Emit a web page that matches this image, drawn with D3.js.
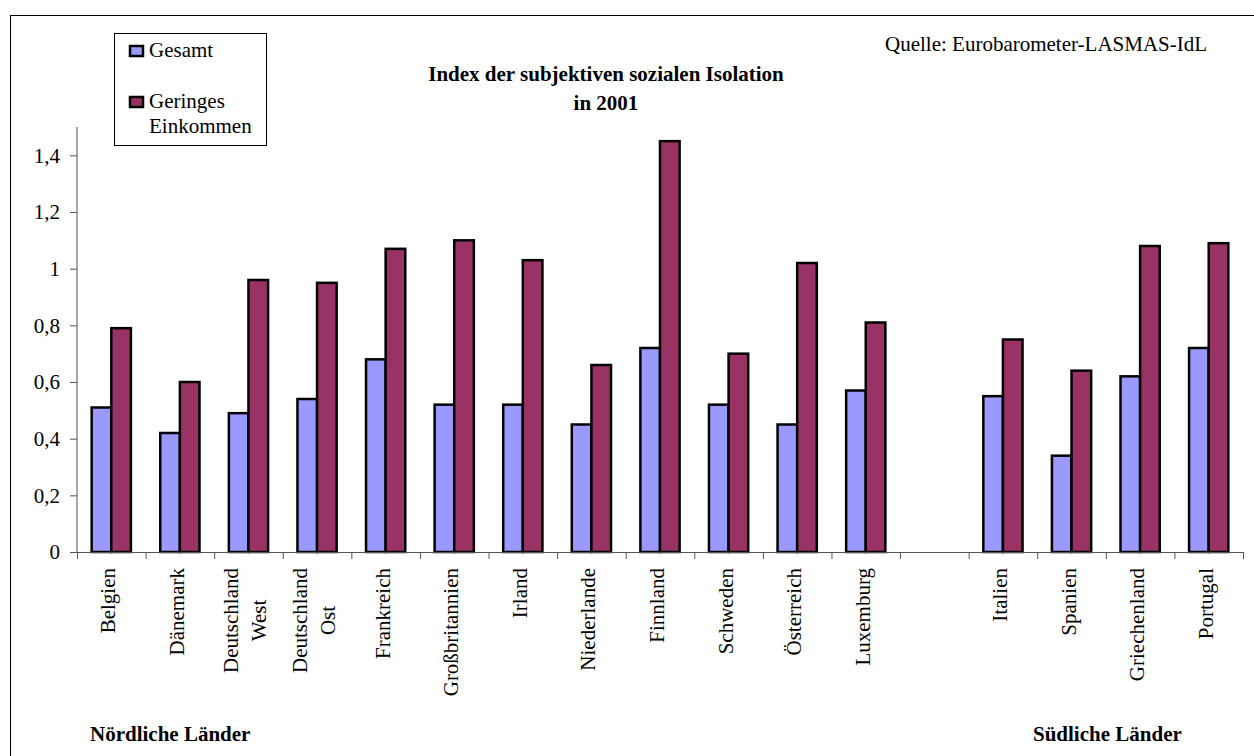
<!doctype html>
<html>
    <head>
        <meta charset="utf-8">
        <title>Index der subjektiven sozialen Isolation</title>
        <script src="https://d3js.org/d3.v7.min.js"></script>
        <style>
            body { margin: 0; background: #fff; }
            svg, svg text { font-family: "Liberation Serif", "Times New Roman", serif !important; }
            text { fill: #000; }
        </style>
    </head>

    <body>
        <script>
            // countries, "" is the empty gap between north and south
            var countries = ["Belgien", "Dänemark", "Deutschland\nWest", "Deutschland\nOst", "Frankreich",
                "Großbritannien", "Irland", "Niederlande", "Finnland", "Schweden", "Österreich",
                "Luxemburg", "", "Italien", "Spanien", "Griechenland", "Portugal"];
            var gesamt = [0.51, 0.42, 0.49, 0.54, 0.68, 0.52, 0.52, 0.45, 0.72, 0.52, 0.45, 0.57,
                null, 0.55, 0.34, 0.62, 0.72];
            var geringes = [0.79, 0.60, 0.96, 0.95, 1.07, 1.10, 1.03, 0.66, 1.45, 0.70, 1.02, 0.81,
                null, 0.75, 0.64, 1.08, 1.09];
            var seriesNames = ["Gesamt", "Geringes\nEinkommen"];
            var seriesColors = ["#9999FF", "#993366"];
            var yTicks = [0, 0.2, 0.4, 0.6, 0.8, 1, 1.2, 1.4];

            var width = 1254;
            var height = 756;

            var svg = d3.select("body")
                .append("svg")
                .attr("width", width)
                .attr("height", height);

            // outer frame (cut off at right and bottom)
            svg.append("rect")
                .attr("x", 10.5)
                .attr("y", 15.5)
                .attr("width", 1400)
                .attr("height", 900)
                .attr("fill", "none")
                .attr("stroke", "#000")
                .attr("stroke-width", 1);

            var keys = countries.map(function (c, i) { return "k" + i; });

            var x0 = d3.scaleBand()
                .domain(keys)
                .range([77, 1243]);

            var bw = x0.bandwidth();

            var x1 = d3.scaleBand()
                .domain([0, 1])
                .range([bw * 0.214, bw * 0.786]);

            var y = d3.scaleLinear()
                .domain([0, 1.5])
                .range([552, 127]);

            var de = d3.formatLocale({ decimal: ",", thousands: ".", grouping: [3], currency: ["", " €"] });
            var fmt = de.format("~g");

            // y axis
            var yAxis = svg.append("g")
                .attr("transform", "translate(77,0)")
                .call(d3.axisLeft(y).tickValues(yTicks).tickSize(7).tickPadding(10).tickFormat(fmt));
            yAxis.attr("font-family", null);
            yAxis.select(".domain").remove();
            yAxis.append("line")
                .attr("x1", 0).attr("x2", 0)
                .attr("y1", y(1.5)).attr("y2", y(0))
                .attr("stroke", "#555");
            yAxis.selectAll(".tick line").attr("stroke", "#555");
            yAxis.selectAll(".tick text")
                .attr("font-size", "21px")
                .attr("fill", "#000");

            // bars
            var data = countries.map(function (c, i) {
                return { key: keys[i], name: c, vals: [gesamt[i], geringes[i]] };
            });

            var groups = svg.selectAll(".grp")
                .data(data)
                .enter().append("g")
                .attr("class", "grp")
                .attr("transform", function (d) { return "translate(" + x0(d.key) + ",0)"; });

            groups.selectAll("rect")
                .data(function (d) {
                    return d.vals.map(function (v, j) { return { s: j, v: v }; })
                        .filter(function (e) { return e.v != null; });
                })
                .enter().append("rect")
                .attr("x", function (d) { return x1(d.s); })
                .attr("width", x1.bandwidth())
                .attr("y", function (d) { return y(d.v); })
                .attr("height", function (d) { return y(0) - y(d.v); })
                .attr("fill", function (d) { return seriesColors[d.s]; })
                .attr("stroke", "#000")
                .attr("stroke-width", 2.5);

            // x axis line and ticks between categories
            svg.append("line")
                .attr("x1", 77).attr("x2", 1243)
                .attr("y1", 552.5).attr("y2", 552.5)
                .attr("stroke", "#555");
            svg.selectAll(".xtick")
                .data(keys.concat(["end"]))
                .enter().append("line")
                .attr("class", "xtick")
                .attr("x1", function (d, i) { return 77 + i * bw + 0.5; })
                .attr("x2", function (d, i) { return 77 + i * bw + 0.5; })
                .attr("y1", 552).attr("y2", 559)
                .attr("stroke", "#555");

            // category labels, rotated
            var labels = svg.selectAll(".xlab")
                .data(data.filter(function (d) { return d.name !== ""; }))
                .enter().append("text")
                .attr("class", "xlab")
                .attr("font-size", "21px")
                .attr("text-anchor", "middle");

            labels.each(function (d) {
                var t = d3.select(this);
                var lines = d.name.split("\n");
                var n = lines.length;
                lines.forEach(function (line, k) {
                    t.append("tspan")
                        .attr("x", 0)
                        .attr("y", 4 + (k - (n - 1) / 2) * 28)
                        .text(line);
                });
                var maxLen = 0;
                t.selectAll("tspan").each(function () {
                    maxLen = Math.max(maxLen, this.getComputedTextLength());
                });
                var cx = x0(d.key) + bw / 2;
                t.attr("transform", "translate(" + cx + "," + (568 + maxLen / 2) + ") rotate(-90)");
            });

            // legend
            var legend = svg.append("g");
            legend.append("rect")
                .attr("x", 114.5).attr("y", 33.5)
                .attr("width", 152).attr("height", 112)
                .attr("fill", "#fff")
                .attr("stroke", "#000")
                .attr("stroke-width", 1);

            var legendY = [46, 97];
            seriesNames.forEach(function (name, i) {
                legend.append("rect")
                    .attr("x", 130).attr("y", legendY[i])
                    .attr("width", 13).attr("height", 10)
                    .attr("fill", seriesColors[i])
                    .attr("stroke", "#000")
                    .attr("stroke-width", 2.5);
                var txt = legend.append("text")
                    .attr("font-size", "21px");
                name.split("\n").forEach(function (line, k) {
                    txt.append("tspan")
                        .attr("x", 149)
                        .attr("y", legendY[i] + 11 + k * 25)
                        .text(line);
                });
            });

            // title
            var title = svg.append("text")
                .attr("text-anchor", "middle")
                .attr("font-size", "21px")
                .attr("font-weight", "bold");
            title.append("tspan").attr("x", 606).attr("y", 81).text("Index der subjektiven sozialen Isolation");
            title.append("tspan").attr("x", 606).attr("y", 110).text("in 2001");

            // source
            svg.append("text")
                .attr("x", 885).attr("y", 51)
                .attr("font-size", "21px")
                .text("Quelle: Eurobarometer-LASMAS-IdL");

            // region labels
            svg.append("text")
                .attr("x", 90).attr("y", 741)
                .attr("font-size", "21px")
                .attr("font-weight", "bold")
                .text("Nördliche Länder");
            svg.append("text")
                .attr("x", 1033).attr("y", 741)
                .attr("font-size", "21px")
                .attr("font-weight", "bold")
                .text("Südliche Länder");
        </script>
    </body>
</html>
